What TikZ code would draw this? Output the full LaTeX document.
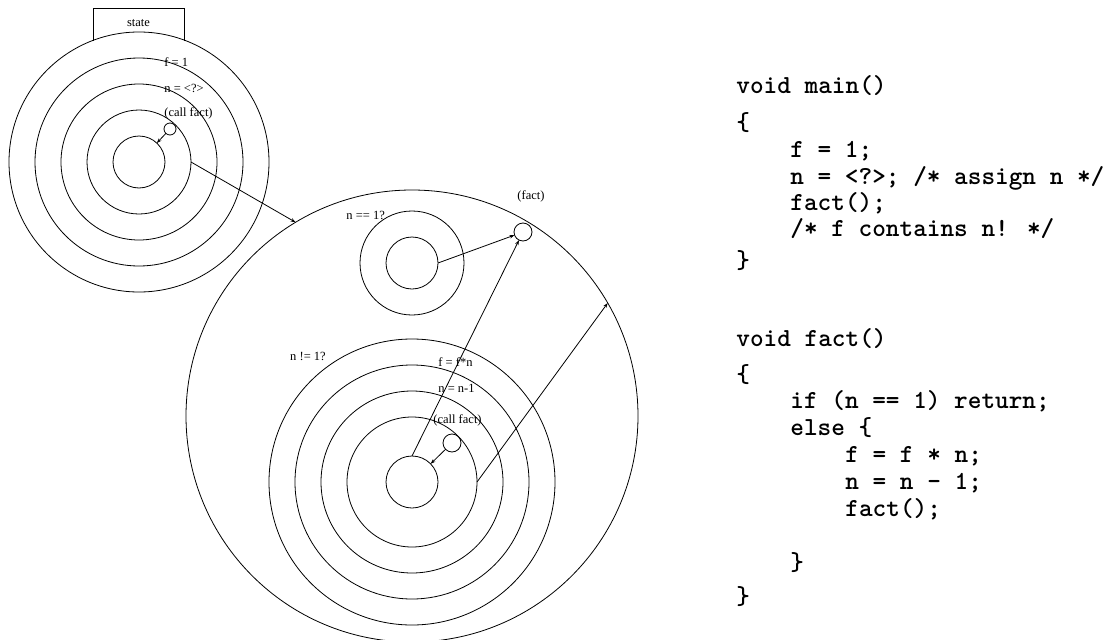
\documentclass[tikz,border=0pt]{standalone}
\usepackage{fontspec}
\setmainfont{Liberation Serif}
\newfontfamily\codefont{lmmonolt10-bold.otf}
\usetikzlibrary{arrows.meta}
\begin{document}
\begin{tikzpicture}[x=1pt,y=-1pt,line width=0.8pt,
  >={Stealth[length=5pt,width=3.5pt]},
  ring/.style={circle,draw,inner sep=0pt,outer sep=0pt,minimum size=#1},
  lbl/.style={inner sep=0pt,font=\fontsize{12.5}{14}\selectfont},
  code/.style={inner sep=0pt,anchor=base west,font=\fontsize{26}{27}\selectfont\codefont}]
\useasboundingbox (0,0) rectangle (1112,640);
% ---------- left (main) group ----------
\node[ring=52]  (L0) at (139,162) {};
\node[ring=104] (L1) at (139,162) {};
\node[ring=156] (L2) at (139,162) {};
\node[ring=208] (L3) at (139,162) {};
\node[ring=260] (L4) at (139,162) {};
\node[ring=12]  (callL) at (170,129) {};
\draw (93,40.5) -- (93,8) -- (184,8) -- (184,40.5);
\node[lbl] (statel) at (138.5,23) {state};
\node[lbl,anchor=west] (lf) at (164,62) {f = 1};
\node[lbl,anchor=west] (ln) at (164,88) {n = <?>};
\node[lbl,anchor=west] (lc) at (164,113) {(call fact)};
% ---------- big (fact) circle ----------
\node[ring=452] (big) at (412,416) {};
\node[ring=18] (factc) at (523,232) {};
\node[lbl] (factl) at (531,196) {(fact)};
% upper group
\node[ring=52]  (U0) at (412,263) {};
\node[ring=104] (U1) at (412,263) {};
\node[lbl,anchor=west] (ueq) at (346,215) {n == 1?};
% lower group
\node[ring=52]  (B0) at (412,482) {};
\node[ring=130] (B1) at (412,482) {};
\node[ring=182] (B2) at (412,482) {};
\node[ring=234] (B3) at (412,482) {};
\node[ring=286] (B4) at (412,482) {};
\node[ring=18]  (callB) at (452,443) {};
\node[lbl] (bneq) at (308,356) {n != 1?};
\node[lbl,anchor=west] (bf) at (438,362) {f = f*n};
\node[lbl,anchor=west] (bn) at (438,388) {n = n-1};
\node[lbl,anchor=west] (bc) at (433,420) {(call fact)};
% ---------- connectors ----------
\draw[->] (callL) -- (L0);
\draw[->] (L1.east) -- (big.121.8);
\draw[->] (U0.east) -- (factc);
\draw[->] (B0.north) -- (factc);
\draw[->] (B1.east) -- (big.30);
\draw[->] (callB) -- (B0);
% ---------- code ----------
\node[code] (c1) at (736,93) {void main()};
\node[code] (c2) at (736,130) {\{};
\node[code] (c3) at (790,157) {f = 1;};
\node[code] (c4) at (790,184) {n = <?>; /* assign n */};
\node[code] (c5) at (790,210) {fact();};
\node[code] (c6) at (790,236) {/* f contains n! */};
\node[code] (c7) at (736,268) {\}};
\node[code] (c8) at (736,346) {void fact()};
\node[code] (c9) at (736,382) {\{};
\node[code] (c10) at (790,408) {if (n == 1) return;};
\node[code] (c11) at (790,435) {else \{};
\node[code] (c12) at (845,462) {f = f * n;};
\node[code] (c13) at (845,489) {n = n - 1;};
\node[code] (c14) at (845,516) {fact();};
\node[code] (c15) at (790,570) {\}};
\node[code] (c16) at (736,604) {\}};
\end{tikzpicture}
\end{document}
